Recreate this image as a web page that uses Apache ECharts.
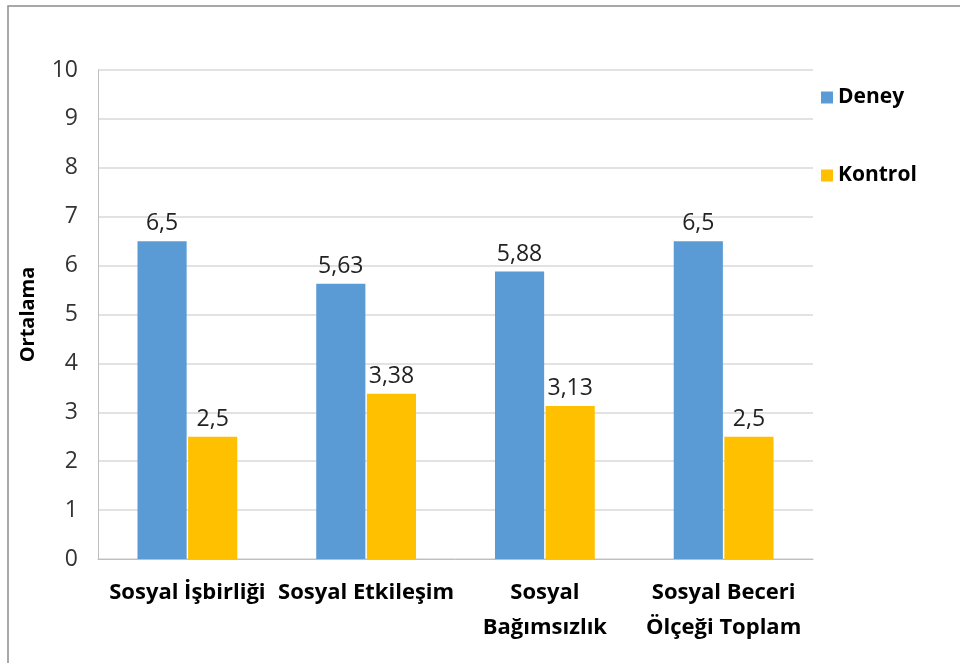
<!DOCTYPE html>
<html>
<head>
<meta charset="utf-8">
<script src="https://cdn.jsdelivr.net/npm/echarts@6/dist/echarts.min.js"></script>
<style>
  html, body { margin: 0; padding: 0; background: #fff; }
  #chart { width: 960px; height: 663px; }
</style>
</head>
<body>
<div id="chart"></div>
<script>
// Subscale means for the experimental (Deney) and control (Kontrol) groups
const categories = ['Sosyal İşbirliği', 'Sosyal Etkileşim', 'Sosyal\nBağımsızlık', 'Sosyal Beceri\nÖlçeği Toplam'];
const deneyValues = [6.5, 5.63, 5.88, 6.5];
const kontrolValues = [2.5, 3.38, 3.13, 2.5];
const seriesNames = ['Deney', 'Kontrol'];
const axisTitle = 'Ortalama';

const FONT = '"Open Sans", "Noto Sans", sans-serif';
const fmt = p => String(p.value).replace('.', ',');

const chart = echarts.init(document.getElementById('chart'), null, { renderer: 'canvas' });

chart.setOption({
  backgroundColor: '#ffffff',
  animation: false,
  textStyle: { fontFamily: FONT },
  graphic: [{
    type: 'rect',
    shape: { x: 8, y: 6, width: 1000, height: 800 },
    style: { fill: 'none', stroke: '#8c8c8c', lineWidth: 1.5 },
    silent: true, z: -1
  }],
  grid: { left: 98, right: 147, top: 70, bottom: 104 },
  legend: {
    data: seriesNames,
    orient: 'vertical',
    left: 816,
    top: 82,
    itemWidth: 12,
    itemHeight: 12,
    itemGap: 57,
    icon: 'rect',
    textStyle: { fontFamily: FONT, fontSize: 21, fontWeight: 'bold', color: '#000' }
  },
  xAxis: {
    type: 'category',
    data: categories,
    axisTick: { show: false },
    axisLine: { lineStyle: { color: '#bfbfbf' } },
    axisLabel: {
      color: '#000', fontSize: 22, fontWeight: 'bold', fontFamily: FONT,
      margin: 16, lineHeight: 35, interval: 0
    }
  },
  yAxis: {
    type: 'value',
    min: 0, max: 10, interval: 1,
    name: axisTitle,
    nameLocation: 'middle',
    nameGap: 60,
    nameTextStyle: { color: '#000', fontSize: 20, fontWeight: 'bold', fontFamily: FONT },
    axisLine: { show: true, lineStyle: { color: '#bfbfbf' } },
    axisTick: { show: false },
    axisLabel: { color: '#333', fontSize: 23, fontFamily: FONT, margin: 20 },
    splitLine: { lineStyle: { color: '#d9d9d9', width: 1.5 } }
  },
  series: [
    {
      name: seriesNames[0], type: 'bar', data: deneyValues,
      barWidth: '27.5%', barGap: '3%',
      itemStyle: { color: '#5b9bd5' },
      label: { show: true, position: 'top', distance: 6, formatter: fmt, color: '#222', fontSize: 23, fontFamily: FONT }
    },
    {
      name: seriesNames[1], type: 'bar', data: kontrolValues,
      barWidth: '27.5%',
      itemStyle: { color: '#ffc000' },
      label: { show: true, position: 'top', distance: 6, formatter: fmt, color: '#222', fontSize: 23, fontFamily: FONT }
    }
  ]
});
</script>
</body>
</html>
